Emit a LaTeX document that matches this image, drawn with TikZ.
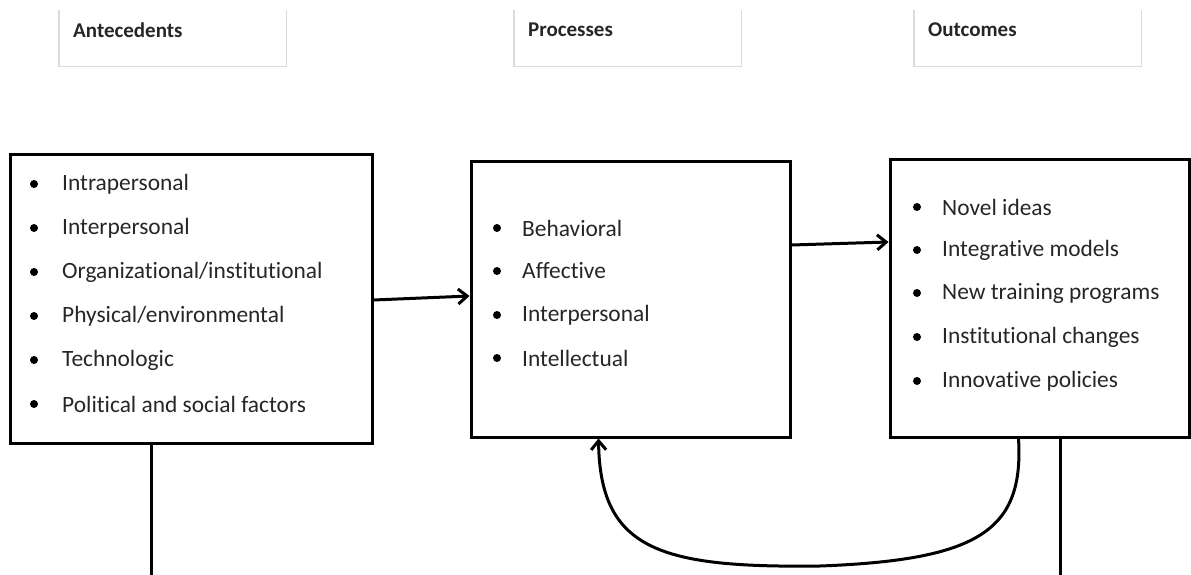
\documentclass[tikz,border=0pt]{standalone}
\usepackage{fontspec}
\setmainfont[Ligatures=NoCommon]{Carlito}
\usetikzlibrary{arrows.meta,positioning,calc}

\begin{document}
\begin{tikzpicture}[x=1pt,y=-1pt,>={Straight Barb[length=9pt,width=15pt]},
    stagebox/.style={draw, line width=3pt, inner sep=0pt},
    hdrbox/.style={minimum width=227pt, minimum height=56pt, inner sep=0pt},
    hdrline/.style={draw=black!14, line width=1.6pt},
    hdrtext/.style={anchor=west, inner sep=0pt, font=\fontsize{21}{25}\selectfont\bfseries, text=black!85},
    item/.style={anchor=west, inner sep=0pt, font=\fontsize{23.4}{27}\selectfont, text=black!85},
    link/.style={->, line width=3pt}]
\useasboundingbox (0,0) rectangle (1191,575);

\foreach \name/\x/\txt in {hA/59/Antecedents, hP/514/Processes, hO/914/Outcomes} {
    \node[hdrbox, anchor=north west] (\name) at (\x,10) {};
    \draw[hdrline] (\name.north west) |- (\name.south east) -- (\name.north east);
    \node[hdrtext] (\name-t) at ($(\name.north west)+(14,20)$) {\txt};
}

\node[stagebox, minimum width=362pt, minimum height=289pt] (ante) at (191,298.5) {};
\node[stagebox, minimum width=319pt, minimum height=276pt] (proc) at (630.5,299) {};
\node[stagebox, minimum width=299pt, minimum height=278pt] (outc) at (1039.5,298) {};

\foreach \i/\y/\txt in {1/184/Intrapersonal, 2/228/Interpersonal, 3/272/{Organizational/institutional},
    4/316/{Physical/environmental}, 5/360/Technologic, 6/404/Political and social factors} {
    \fill (34,\y) circle (4pt);
    \node[item] (ante-\i) at (62,\y) {\txt};
}
\foreach \i/\y/\txt in {1/228/Behavioral, 2/271/Affective, 3/315/Interpersonal, 4/358/Intellectual} {
    \fill (497,\y) circle (4pt);
    \node[item] (proc-\i) at (522,\y) {\txt};
}
\foreach \i/\y/\txt in {1/207/Novel ideas, 2/250/Integrative models, 3/293/New training programs,
    4/337/Institutional changes, 5/381/Innovative policies} {
    \fill (917,\y) circle (4pt);
    \node[item] (outc-\i) at (942,\y) {\txt};
}

\draw[link] ([yshift=-1.5pt]ante.east) -- ([yshift=3pt]proc.west);
\draw[link] ([yshift=54pt]proc.east) -- ([yshift=56pt]outc.west);

\coordinate (anteOut) at (151,575);
\coordinate (outcOut) at (1060,575);
\draw[line width=3pt] (ante.south -| anteOut) -- (anteOut);
\draw[line width=3pt] (outc.south -| outcOut) -- (outcOut);

\coordinate (loopLow) at (820,566);
\draw[link] ([xshift=130pt]outc.south west) .. controls (1024,530) and (980,560) .. (loopLow)
    .. controls (660,568) and (600,550) .. ([xshift=129pt]proc.south west);
\end{tikzpicture}
\end{document}
